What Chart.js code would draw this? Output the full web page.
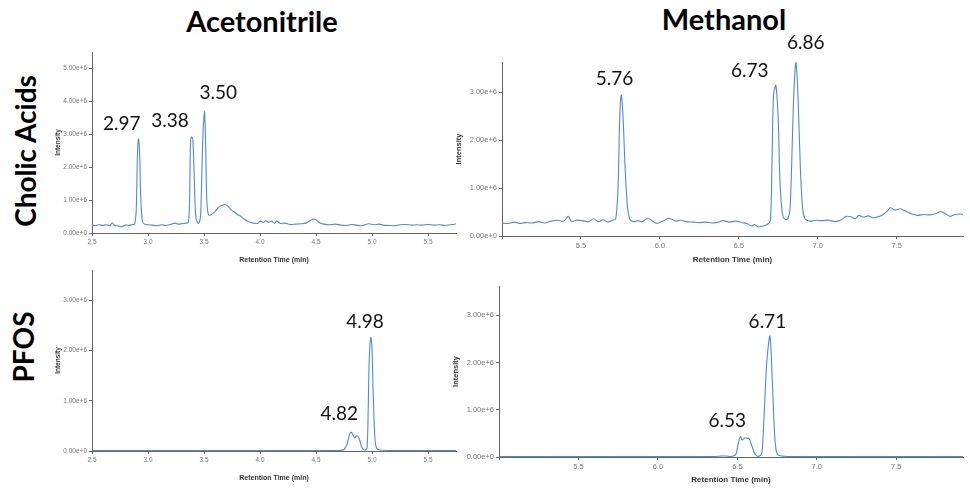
<!DOCTYPE html>
<html>
<head>
<meta charset="utf-8">
<script src="https://cdn.jsdelivr.net/npm/chart.js@4"></script>
<style>
  html, body { margin: 0; padding: 0; background: #fff; }
  body { width: 970px; height: 489px; position: relative; overflow: hidden; font-family: Lato, "Open Sans", sans-serif; }
  .panel { position: absolute; }
  .title { position: absolute; font-weight: bold; font-size: 29px; color: #000; white-space: nowrap; line-height: 1; }
  .rowlabel { position: absolute; font-weight: bold; font-size: 28px; color: #000; white-space: nowrap; line-height: 1;
              transform: translate(-50%, -50%) rotate(-90deg); }
</style>
</head>
<body>
<div class="title" style="left:262px; top:20px; transform:translate(-50%,-50%)">Acetonitrile</div>
<div class="title" style="left:724px; top:18px; transform:translate(-50%,-50%)">Methanol</div>
<div class="rowlabel" style="left:25px; top:151px">Cholic Acids</div>
<div class="rowlabel" style="left:23px; top:347px">PFOS</div>

<div class="panel" style="left:50px; top:44px; width:414px; height:224px"><canvas id="acnCholic"></canvas></div>
<div class="panel" style="left:450px; top:30px; width:520px; height:239px"><canvas id="meohCholic"></canvas></div>
<div class="panel" style="left:50px; top:262px; width:414px; height:224px"><canvas id="acnPfos"></canvas></div>
<div class="panel" style="left:447px; top:278px; width:523px; height:211px"><canvas id="meohPfos"></canvas></div>

<script>
// Retention times (min) and intensities (x1e6)

// Acetonitrile / cholic acids
const acnCholicTime = [2.50, 2.53, 2.56, 2.60, 2.63, 2.66, 2.68, 2.70, 2.73, 2.76, 2.80, 2.83, 2.86, 2.88, 2.895, 2.905, 2.915, 2.925, 2.935, 2.95, 2.97,
  3.00, 3.04, 3.08, 3.12, 3.16, 3.20, 3.24, 3.27, 3.30, 3.34, 3.36, 3.37, 3.38, 3.39, 3.40, 3.41, 3.425, 3.44, 3.455, 3.47, 3.485, 3.495, 3.505, 3.515, 3.525, 3.54,
  3.56, 3.60, 3.63, 3.66, 3.69, 3.72, 3.74, 3.77, 3.80, 3.83, 3.86, 3.90, 3.94, 3.98, 4.00, 4.03, 4.05, 4.08, 4.10, 4.13, 4.15, 4.18, 4.22, 4.27, 4.32, 4.37,
  4.41, 4.44, 4.47, 4.50, 4.53, 4.57, 4.62, 4.67, 4.72, 4.77, 4.82, 4.86, 4.90, 4.93, 4.97, 5.02, 5.06, 5.10, 5.15, 5.20, 5.25, 5.30, 5.35, 5.40, 5.45, 5.50,
  5.55, 5.60, 5.65, 5.70, 5.73, 5.75];
const acnCholicInt = [0.24, 0.22, 0.25, 0.23, 0.25, 0.22, 0.31, 0.23, 0.22, 0.19, 0.24, 0.23, 0.26, 0.27, 0.70, 2.30, 2.86, 2.45, 1.10, 0.35, 0.27,
  0.25, 0.24, 0.22, 0.25, 0.23, 0.26, 0.30, 0.27, 0.28, 0.30, 0.32, 0.80, 2.80, 2.92, 2.85, 2.00, 0.55, 0.32, 0.30, 0.55, 2.40, 3.30, 3.68, 2.60, 1.00, 0.55,
  0.55, 0.66, 0.78, 0.84, 0.86, 0.80, 0.70, 0.64, 0.56, 0.50, 0.42, 0.34, 0.30, 0.29, 0.36, 0.32, 0.37, 0.33, 0.36, 0.30, 0.36, 0.29, 0.30, 0.26, 0.27, 0.28,
  0.30, 0.36, 0.42, 0.40, 0.31, 0.27, 0.25, 0.27, 0.24, 0.23, 0.26, 0.24, 0.22, 0.24, 0.28, 0.25, 0.27, 0.24, 0.23, 0.22, 0.25, 0.26, 0.24, 0.25, 0.24, 0.26,
  0.24, 0.25, 0.23, 0.25, 0.26, 0.28];

// Methanol / cholic acids
const meohCholicTime = [5.00, 5.04, 5.08, 5.11, 5.15, 5.19, 5.23, 5.27, 5.31, 5.35, 5.39, 5.42, 5.44, 5.47, 5.51, 5.55, 5.58, 5.61, 5.64, 5.67, 5.70, 5.72,
  5.735, 5.745, 5.755, 5.765, 5.78, 5.795, 5.81, 5.83, 5.86, 5.89, 5.92, 5.95, 5.98, 6.00, 6.03, 6.06, 6.10, 6.13, 6.17, 6.21, 6.25, 6.29, 6.33, 6.37,
  6.40, 6.44, 6.48, 6.52, 6.55, 6.58, 6.60, 6.62, 6.65, 6.68, 6.70, 6.71, 6.72, 6.735, 6.75, 6.76, 6.775, 6.79, 6.81, 6.825, 6.84, 6.85, 6.862, 6.875,
  6.89, 6.905, 6.92, 6.95, 6.99, 7.03, 7.07, 7.11, 7.15, 7.18, 7.21, 7.24, 7.26, 7.29, 7.32, 7.35, 7.38, 7.41, 7.44, 7.46, 7.49, 7.52, 7.55, 7.57,
  7.60, 7.63, 7.67, 7.71, 7.75, 7.78, 7.81, 7.84, 7.87, 7.90, 7.92];
const meohCholicInt = [0.27, 0.26, 0.29, 0.26, 0.28, 0.27, 0.30, 0.27, 0.31, 0.33, 0.31, 0.41, 0.30, 0.33, 0.32, 0.30, 0.36, 0.30, 0.34, 0.29, 0.33, 0.35,
  1.00, 2.40, 2.94, 2.60, 1.40, 0.60, 0.35, 0.30, 0.32, 0.30, 0.37, 0.32, 0.26, 0.28, 0.33, 0.37, 0.31, 0.33, 0.30, 0.29, 0.28, 0.29, 0.27, 0.29,
  0.32, 0.29, 0.31, 0.28, 0.26, 0.21, 0.24, 0.19, 0.21, 0.24, 0.32, 1.50, 2.95, 3.14, 2.40, 1.20, 0.48, 0.35, 0.36, 0.60, 2.10, 3.10, 3.62, 2.90,
  1.40, 0.55, 0.36, 0.31, 0.33, 0.32, 0.33, 0.30, 0.34, 0.41, 0.40, 0.36, 0.43, 0.39, 0.42, 0.38, 0.40, 0.44, 0.52, 0.59, 0.54, 0.57, 0.53, 0.50,
  0.46, 0.43, 0.45, 0.44, 0.47, 0.51, 0.46, 0.41, 0.45, 0.46, 0.45];

// Acetonitrile / PFOS
const acnPfosTime = [2.50, 3.00, 3.50, 4.00, 4.50, 4.70, 4.75, 4.78, 4.80, 4.815, 4.83, 4.845, 4.86, 4.875, 4.89, 4.91, 4.935, 4.955, 4.965, 4.975,
  4.99, 5.00, 5.01, 5.025, 5.04, 5.07, 5.20, 5.50, 5.75];
const acnPfosInt = [0.01, 0.01, 0.01, 0.01, 0.01, 0.01, 0.03, 0.15, 0.33, 0.37, 0.32, 0.26, 0.30, 0.29, 0.22, 0.07, 0.02, 0.05, 0.70, 1.80,
  2.26, 2.05, 1.20, 0.30, 0.06, 0.02, 0.01, 0.01, 0.01];

// Methanol / PFOS
const meohPfosTime = [5.00, 5.50, 6.00, 6.35, 6.40, 6.43, 6.46, 6.49, 6.505, 6.52, 6.53, 6.545, 6.56, 6.575, 6.59, 6.605, 6.62, 6.64, 6.655, 6.67,
  6.685, 6.705, 6.72, 6.735, 6.75, 6.78, 6.85, 7.20, 7.60, 7.92];
const meohPfosInt = [0.01, 0.01, 0.01, 0.01, 0.02, 0.02, 0.01, 0.05, 0.28, 0.43, 0.36, 0.40, 0.40, 0.38, 0.25, 0.10, 0.03, 0.02, 0.10, 1.00,
  2.00, 2.56, 1.60, 0.45, 0.07, 0.02, 0.01, 0.01, 0.01, 0.01];

// Tick values (intensity in x1e6, time in min); null label = tick mark only
const acnYTicks = [0, 1, 2, 3, 4, 5];
const acnPfosYTicks = [0, 1, 2, 3];
const meohYTicks = [0, 1, 2, 3];
const acnXTicks = [2.5, 3.0, 3.5, 4.0, 4.5, 5.0, 5.5];
const meohXTicks = [5.0, 5.5, 6.0, 6.5, 7.0, 7.5];
const meohXHidden = [5.0];

// Peak annotations: text, retention time and intensity (x1e6) of the label centre
const acnCholicPeaks = [["2.97", 2.765, 3.33], ["3.38", 3.196, 3.41], ["3.50", 3.628, 4.26]];
const meohCholicPeaks = [["5.76", 5.713, 3.27], ["6.73", 6.570, 3.45], ["6.86", 6.924, 4.02]];
const acnPfosPeaks = [["4.98", 4.9375, 2.57], ["4.82", 4.708, 0.74]];
const meohPfosPeaks = [["6.53", 6.437, 0.77], ["6.71", 6.689, 2.87]];

const LINE_COLOR = "#4f8ad8";
const AXIS_COLOR = "#666";

const peakLabels = {
  id: "peakLabels",
  afterDatasetsDraw(chart, args, opts) {
    const { ctx, scales } = chart;
    ctx.save();
    ctx.font = "19px Lato, 'Open Sans', sans-serif";
    ctx.fillStyle = "#111";
    ctx.textAlign = "center";
    ctx.textBaseline = "middle";
    (opts.peaks || []).forEach(([txt, t, v]) => {
      ctx.fillText(txt, scales.x.getPixelForValue(t), scales.y.getPixelForValue(v * 1e6));
    });
    ctx.restore();
  },
};

function fmtIntensity(v) {
  const m = Math.round(v / 1e6);
  return m === 0 ? "0.00e+0" : m.toFixed(2) + "e+6";
}

function makeChart(id, times, values, peaks, cfg) {
  const ctx = document.getElementById(id).getContext("2d");
  const hidden = cfg.xHidden || [];
  return new Chart(ctx, {
    type: "line",
    data: {
      datasets: [{
        data: times.map((t, i) => ({ x: t, y: values[i] * 1e6 })),
        borderColor: LINE_COLOR,
        borderWidth: 1.1,
        pointRadius: 0,
        tension: 0.3,
        fill: false,
      }],
    },
    options: {
      responsive: true,
      maintainAspectRatio: false,
      animation: false,
      layout: { padding: { top: cfg.padTop, right: cfg.padRight, left: 0, bottom: 0 } },
      plugins: { legend: { display: false }, tooltip: { enabled: false }, peakLabels: { peaks } },
      scales: {
        x: {
          type: "linear",
          min: cfg.xMin,
          max: cfg.xMax,
          afterBuildTicks: (s) => { s.ticks = cfg.xTicks.map((v) => ({ value: v })); },
          afterFit: (s) => { s.height = cfg.xHeight; },
          border: { color: AXIS_COLOR },
          grid: { drawOnChartArea: false, color: AXIS_COLOR, tickLength: 3 },
          ticks: {
            maxRotation: 0,
            autoSkip: false,
            color: "#777",
            font: { size: cfg.tickSize, family: "Liberation Sans" },
            padding: 2,
            callback: (v) => (hidden.some((h) => Math.abs(h - v) < 1e-6) ? "" : Number(v).toFixed(1)),
          },
          title: {
            display: true,
            text: "Retention Time (min)",
            color: "#333",
            font: { size: cfg.titleSize, weight: "bold", family: "Liberation Sans" },
            padding: { top: 0, bottom: 4 },
          },
        },
        y: {
          type: "linear",
          min: 0,
          max: cfg.yMax * 1e6,
          afterBuildTicks: (s) => { s.ticks = cfg.yTicks.map((v) => ({ value: v * 1e6 })); },
          afterFit: (s) => { s.width = cfg.yWidth; },
          border: { color: AXIS_COLOR },
          grid: { drawOnChartArea: false, color: AXIS_COLOR, tickLength: 3 },
          ticks: {
            autoSkip: false,
            color: "#777",
            font: { size: cfg.tickSize, family: "Liberation Sans" },
            padding: 2,
            callback: (v) => fmtIntensity(v),
          },
          title: {
            display: true,
            text: "Intensity",
            color: "#333",
            font: { size: cfg.titleSize - 0.5, weight: "bold", family: "Liberation Sans" },
            padding: { top: 4, bottom: 0 },
          },
        },
      },
    },
    plugins: [peakLabels],
  });
}

const leftCfg = { xMin: 2.5, xMax: 5.75, xTicks: acnXTicks, padTop: 8, padRight: 8, yWidth: 42, xHeight: 35, tickSize: 6.5, titleSize: 7 };
const rightCfg = { xMin: 5.0, xMax: 7.92, xTicks: meohXTicks, xHidden: meohXHidden, yTicks: meohYTicks, padRight: 7, yWidth: 52, tickSize: 7.5, titleSize: 8 };

makeChart("acnCholic", acnCholicTime, acnCholicInt, acnCholicPeaks, { ...leftCfg, yTicks: acnYTicks, yMax: 5.5 });
makeChart("meohCholic", meohCholicTime, meohCholicInt, meohCholicPeaks, { ...rightCfg, yMax: 3.63, padTop: 32, xHeight: 33 });
makeChart("acnPfos", acnPfosTime, acnPfosInt, acnPfosPeaks, { ...leftCfg, yTicks: acnPfosYTicks, yMax: 3.6 });
makeChart("meohPfos", meohPfosTime, meohPfosInt, meohPfosPeaks, { ...rightCfg, yMax: 3.62, padTop: 8, xHeight: 32 });
</script>
</body>
</html>
